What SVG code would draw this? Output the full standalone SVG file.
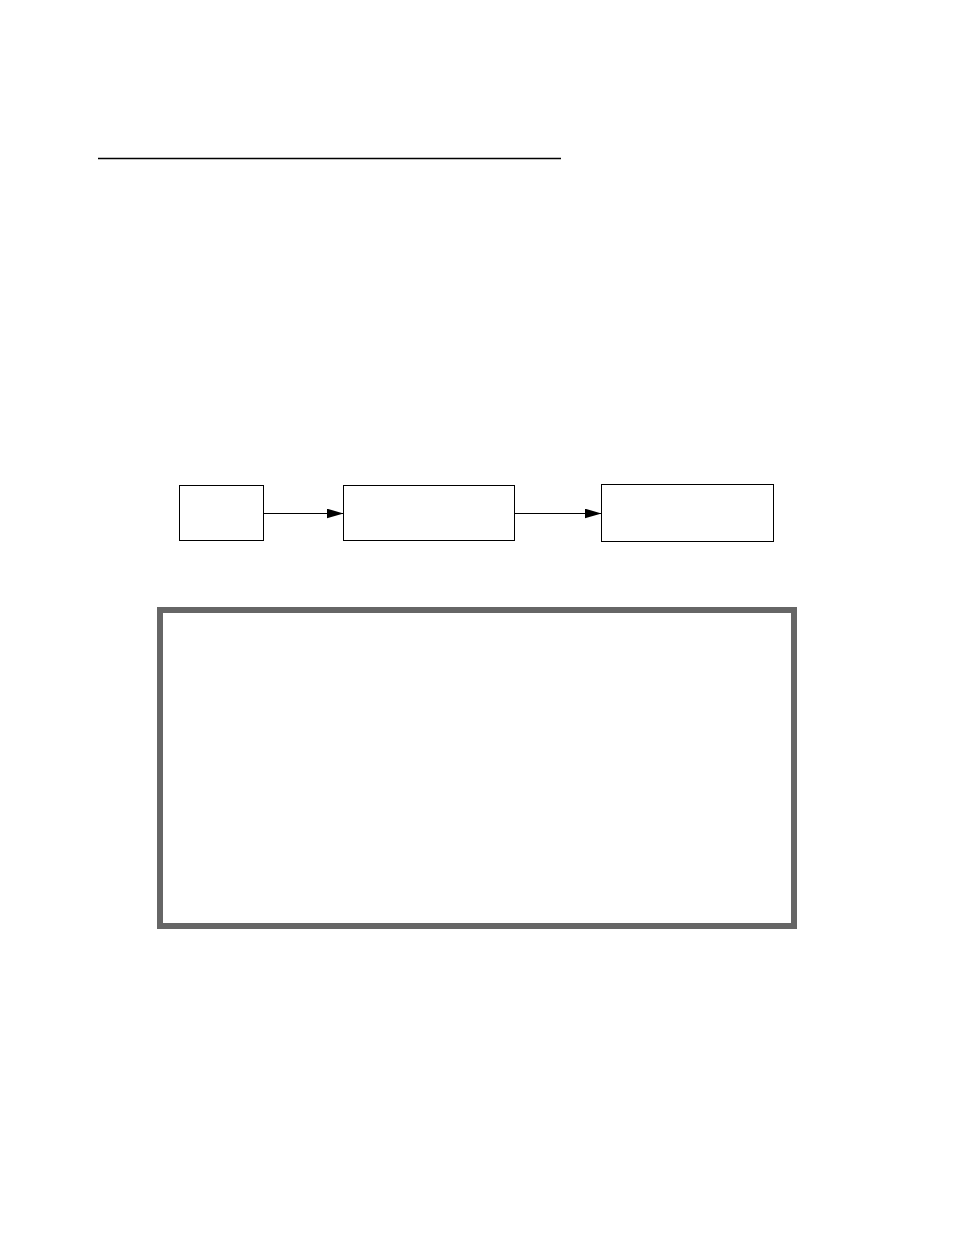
<svg xmlns="http://www.w3.org/2000/svg" width="954" height="1235" viewBox="0 0 954 1235">
<style>
.node{fill:#fff;stroke:#000;stroke-width:1}
.conn{fill:none;stroke:#000;stroke-width:1.2}
</style>
<defs>
<marker id="ah" viewBox="0 0 10 10" refX="10" refY="5" markerWidth="17" markerHeight="10" markerUnits="userSpaceOnUse" orient="auto" preserveAspectRatio="none">
<path d="M0,0 L10,5 L0,10 Z" fill="#000"/>
</marker>
</defs>
<rect width="954" height="1235" fill="#fff"/>
<line x1="98" y1="158.5" x2="561" y2="158.5" stroke="#000" stroke-width="1.5"/>
<g id="node1"><rect class="node" x="179.5" y="485.5" width="84" height="55"/></g>
<g id="node2"><rect class="node" x="343.5" y="485.5" width="171" height="55"/></g>
<g id="node3"><rect class="node" x="601.5" y="484.5" width="172" height="57"/></g>
<g id="frame"><rect x="160" y="610" width="634" height="316" fill="none" stroke="#666" stroke-width="6"/></g>
<g id="connectors">
<line class="conn" x1="263.5" y1="513.5" x2="343.5" y2="513.5" marker-end="url(#ah)"/>
<line class="conn" x1="514.5" y1="513.5" x2="601.5" y2="513.5" marker-end="url(#ah)"/>
</g>
</svg>
